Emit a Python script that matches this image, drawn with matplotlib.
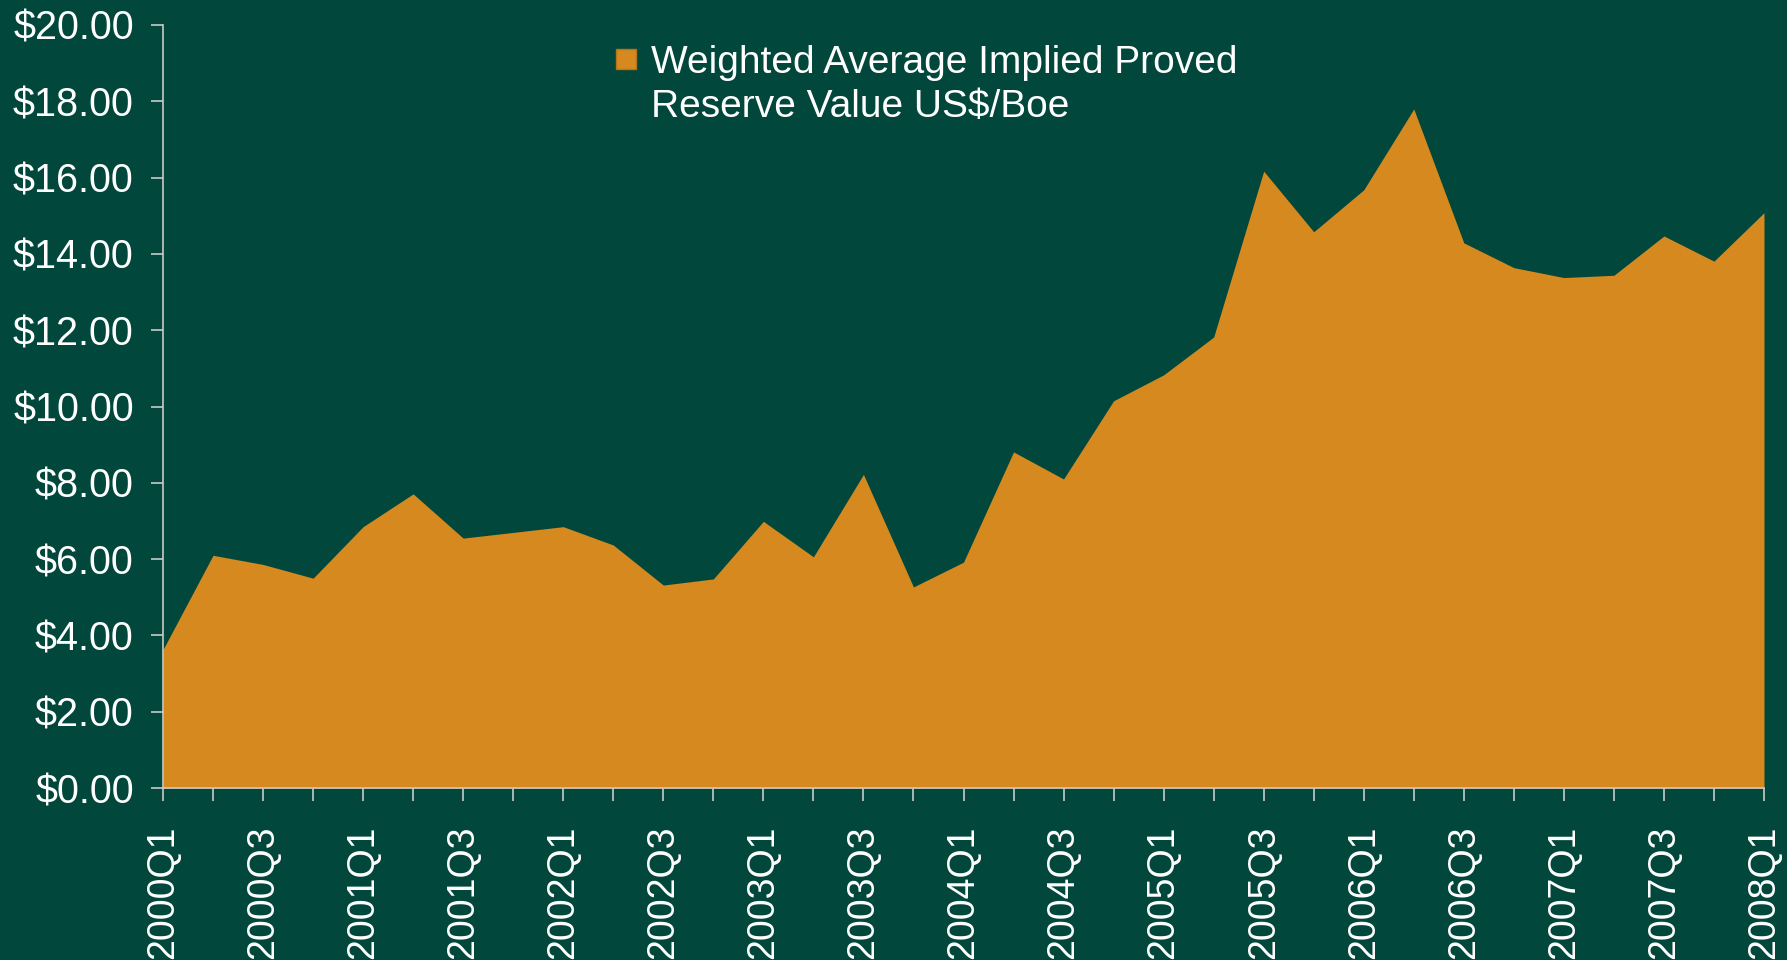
import matplotlib
matplotlib.use("Agg")
import matplotlib.pyplot as plt
from matplotlib.patches import Rectangle
from matplotlib.ticker import FuncFormatter

BG = "#01473B"
ORANGE = "#D5891E"
SPINE = "#C8CCC8"

quarters = [
    "2000Q1", "2000Q2", "2000Q3", "2000Q4",
    "2001Q1", "2001Q2", "2001Q3", "2001Q4",
    "2002Q1", "2002Q2", "2002Q3", "2002Q4",
    "2003Q1", "2003Q2", "2003Q3", "2003Q4",
    "2004Q1", "2004Q2", "2004Q3", "2004Q4",
    "2005Q1", "2005Q2", "2005Q3", "2005Q4",
    "2006Q1", "2006Q2", "2006Q3", "2006Q4",
    "2007Q1", "2007Q2", "2007Q3", "2007Q4",
    "2008Q1",
]
reserve_value = [
    3.63, 6.10, 5.86, 5.50,
    6.85, 7.71, 6.55, 6.70,
    6.85, 6.37, 5.32, 5.48,
    6.99, 6.06, 8.22, 5.27,
    5.92, 8.81, 8.10, 10.15,
    10.83, 11.82, 16.17, 14.58,
    15.68, 17.80, 14.29, 13.64,
    13.38, 13.44, 14.47, 13.81,
    15.08,
]
legend_lines = ["Weighted Average Implied Proved", "Reserve Value US$/Boe"]

plt.rcParams["font.family"] = ["Liberation Sans", "DejaVu Sans"]

W, H = 1787, 960
fig = plt.figure(figsize=(W / 100, H / 100), dpi=100, facecolor=BG)
ax = fig.add_axes([163 / W, 1 - 788 / H, (1764 - 163) / W, (788 - 25) / H])
ax.set_facecolor(BG)

x = list(range(len(quarters)))
ax.fill_between(x, 0, reserve_value, color=ORANGE, lw=0)

ax.set_xlim(0, len(quarters) - 1)
ax.set_ylim(0, 20)
ax.set_yticks(range(0, 21, 2))
ax.yaxis.set_major_formatter(FuncFormatter(lambda v, _: f"${v:.2f}"))

ax.set_xticks(x)
ax.set_xticklabels([q if i % 2 == 0 else "" for i, q in enumerate(quarters)],
                   rotation=90, va="top", ha="center")

for side in ("top", "right"):
    ax.spines[side].set_visible(False)
for side in ("left", "bottom"):
    ax.spines[side].set_color(SPINE)
    ax.spines[side].set_linewidth(1.2)

ax.tick_params(axis="y", colors=SPINE, labelcolor="white", labelsize=28.5,
               length=9, width=1.2, pad=12)
ax.tick_params(axis="x", colors=SPINE, labelcolor="white", labelsize=27,
               length=9, width=1.2, pad=18)

# legend drawn by hand: square swatch next to the first line of a two-line label
fig.patches.append(Rectangle((616 / W, 1 - 69 / H), 20 / W, 20 / H,
                             transform=fig.transFigure, facecolor=ORANGE,
                             edgecolor="#B8741A", lw=1))
for i, line in enumerate(legend_lines):
    fig.text(651 / W, 1 - (73 + 44 * i) / H, line, color="white",
             fontsize=28, va="baseline", ha="left")

fig.savefig("out.png", dpi=100, facecolor=BG)
